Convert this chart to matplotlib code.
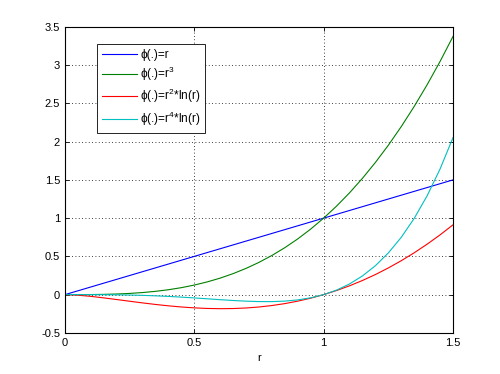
import matplotlib
matplotlib.use("Agg")
import matplotlib.pyplot as plt

plt.rcParams["font.family"] = ["Liberation Sans", "DejaVu Sans"]
plt.rcParams["mathtext.fontset"] = "custom"
plt.rcParams["mathtext.rm"] = "Liberation Sans"

R = [0.0, 0.05, 0.1, 0.15, 0.2, 0.25, 0.3, 0.35, 0.4, 0.45, 0.5, 0.55, 0.6, 0.65,
     0.7, 0.75, 0.8, 0.85, 0.9, 0.95, 1.0, 1.05, 1.1, 1.15, 1.2, 1.25, 1.3, 1.35,
     1.4, 1.45, 1.5]
PHI_R = [0.0, 0.05, 0.1, 0.15, 0.2, 0.25, 0.3, 0.35, 0.4, 0.45, 0.5, 0.55, 0.6,
         0.65, 0.7, 0.75, 0.8, 0.85, 0.9, 0.95, 1.0, 1.05, 1.1, 1.15, 1.2, 1.25,
         1.3, 1.35, 1.4, 1.45, 1.5]
PHI_R3 = [0.0, 0.0001, 0.001, 0.0034, 0.008, 0.0156, 0.027, 0.0429, 0.064, 0.0911,
          0.125, 0.1664, 0.216, 0.2746, 0.343, 0.4219, 0.512, 0.6141, 0.729,
          0.8574, 1.0, 1.1576, 1.331, 1.5209, 1.728, 1.9531, 2.197, 2.4604, 2.744,
          3.0486, 3.375]
PHI_R2LN = [0.0, -0.0075, -0.023, -0.0427, -0.0644, -0.0866, -0.1084, -0.1286,
            -0.1466, -0.1617, -0.1733, -0.1809, -0.1839, -0.182, -0.1748, -0.1618,
            -0.1428, -0.1174, -0.0853, -0.0463, 0.0, 0.0538, 0.1153, 0.1848,
            0.2625, 0.3487, 0.4434, 0.5469, 0.6595, 0.7812, 0.9123]
PHI_R4LN = [0.0, 0.0, -0.0002, -0.001, -0.0026, -0.0054, -0.0098, -0.0158, -0.0235,
            -0.0327, -0.0433, -0.0547, -0.0662, -0.0769, -0.0856, -0.091, -0.0914,
            -0.0848, -0.0691, -0.0418, 0.0, 0.0593, 0.1396, 0.2445, 0.3781, 0.5448,
            0.7493, 0.9968, 1.2926, 1.6425, 2.0527]

SERIES = [
    (PHI_R, "#0000ff", "\u03d5(.)=r"),
    (PHI_R3, "#008000", "\u03d5(.)=r$^{3}$"),
    (PHI_R2LN, "#ff0000", "\u03d5(.)=r$^{2}$*ln(r)"),
    (PHI_R4LN, "#00bfbf", "\u03d5(.)=r$^{4}$*ln(r)"),
]

fig = plt.figure(figsize=(5.0, 3.74), dpi=100)
ax = fig.add_axes([0.13, 0.11, 0.776, 0.818])

for vals, color, label in SERIES:
    ax.plot(R, vals, color=color, linewidth=0.8, label=label)

ax.set_xlim(0, 1.5)
ax.set_ylim(-0.5, 3.5)
ax.set_xticks([0, 0.5, 1, 1.5])
ax.set_xticklabels(["0", "0.5", "1", "1.5"])
yt = [-0.5, 0, 0.5, 1, 1.5, 2, 2.5, 3, 3.5]
ax.set_yticks(yt)
ax.set_yticklabels(["-0.5", "0", "0.5", "1", "1.5", "2", "2.5", "3", "3.5"])
ax.tick_params(direction="in", top=True, right=True, labelsize=8, length=3, width=0.6)
ax.grid(True, color="black", linestyle=(0, (1, 3)), linewidth=0.6)
for s in ax.spines.values():
    s.set_linewidth(0.8)
ax.set_xlabel("r", fontsize=8, labelpad=4)

leg = ax.legend(loc="upper left", bbox_to_anchor=(0.082, 0.944), fontsize=8.5,
                fancybox=False, framealpha=1, edgecolor="black",
                handlelength=3.0, borderpad=0.4, labelspacing=0.35,
                handletextpad=0.3, borderaxespad=0)
leg.get_frame().set_linewidth(0.6)

fig.savefig("out.png", dpi=100)
